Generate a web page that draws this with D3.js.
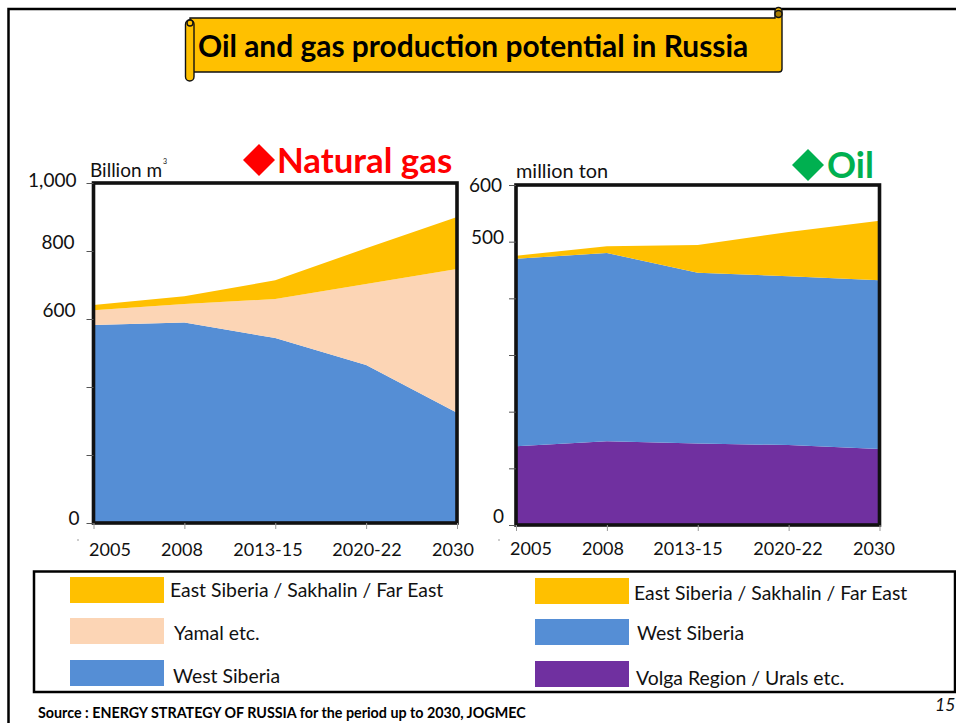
<!DOCTYPE html>
<html><head><meta charset="utf-8">
<script src="https://cdn.jsdelivr.net/npm/d3@7/dist/d3.min.js"></script>
<style>html,body{margin:0;padding:0;background:#fff}svg{display:block}text{font-family:Lato,"Open Sans",sans-serif;fill:#111}</style>
</head><body><svg id="c" width="956" height="723"></svg>
<script>
const periods = ["2005","2008","2013-15","2020-22","2030"];
const gasWest = [582,590,544,465,324];
const gasYamal = [44,54,115,238,423];
const gasEast = [15,23,55,105,153];
const oilVolga = [139,148,144,141,134];
const oilWest = [331,332,301,298,298];
const oilEast = [5,12,49,78,105];
const gasTicks = [0,200,400,600,800,1000];
const oilTicks = [0,100,200,300,400,500,600];
const gasLabelled = [0,600,800,1000];
const oilLabelled = [0,500,600];
const gasSeries = ["West Siberia","Yamal etc.","East Siberia / Sakhalin / Far East"];
const oilSeries = ["Volga Region / Urals etc.","West Siberia","East Siberia / Sakhalin / Far East"];

const BLUE="#558ed5", PEACH="#fcd5b5", GOLD="#ffc000", PURPLE="#7030a0";
const svg=d3.select("#c");

// page frame
svg.append("path").attr("d","M8.5,723V9H956").attr("fill","none").attr("stroke","#000").attr("stroke-width",2.5);

// scroll banner
const b=svg.append("g").attr("stroke","#111").attr("stroke-width",1.4);
b.append("path").attr("fill",GOLD).attr("d","M190,18H775V11a3.5,3.5 0 0 1 7,0V69a3,3 0 0 1 -3,3H190Z");
b.append("circle").attr("cx",778.5).attr("cy",14).attr("r",3.5).attr("fill","#a87c00");
b.append("rect").attr("x",185.5).attr("y",20).attr("width",8.5).attr("height",61).attr("rx",4.2).attr("fill",GOLD);
b.append("circle").attr("cx",190).attr("cy",23).attr("r",3).attr("fill",GOLD);
svg.append("text").attr("x",198).attr("y",57).attr("font-size",29.9).attr("font-weight",700).style("fill","#000").text("Oil and gas production potential in Russia");

function panel(o){
  const x=d3.scalePoint().domain(periods).range([o.x0,o.x1]);
  const y=d3.scaleLinear().domain(o.domain).range([o.y0,o.y1]);
  const stacked=d3.stack().keys(o.series.map((_,i)=>i))(periods.map((p,i)=>o.values.map(v=>v[i])));
  const area=d3.area().x((d,i)=>x(periods[i])).y0(d=>y(d[0])).y1(d=>y(d[1]));
  svg.append("g").selectAll("path").data(stacked).join("path").attr("d",area).attr("fill",(d,i)=>o.colors[i]);
  svg.append("rect").attr("x",o.x0).attr("y",o.y1).attr("width",o.x1-o.x0).attr("height",o.y0-o.y1).attr("fill","none").attr("stroke","#111").attr("stroke-width",3.6);
  const ya=svg.append("g").attr("transform",`translate(${o.x0},0)`)
    .call(d3.axisLeft(y).tickValues(o.ticks).tickSize(7).tickFormat(v=>o.labelled.includes(v)?d3.format(",")(v):""));
  ya.select(".domain").remove();
  ya.selectAll("line").attr("stroke","#555").attr("stroke-width",1);
  ya.selectAll("text").attr("font-size",19).attr("fill","#111")
    .attr("dy",v=>(o.nudge[v]||[0,0])[1]).attr("x",v=>-14+(o.nudge[v]||[0,0])[0]).style("dominant-baseline","middle");
  const xa=svg.append("g").attr("transform",`translate(0,${o.y0})`).call(d3.axisBottom(x).tickSize(6).tickFormat(""));
  xa.select(".domain").remove();
  xa.selectAll("line").attr("stroke","#999");
  svg.append("g").selectAll("text").data(periods).join("text")
    .attr("x",(d,i)=>o.lx[i]).attr("y",o.ly).attr("text-anchor","middle").attr("font-size",o.fs).text(d=>d);
}
panel({x0:93.5,x1:457,y0:523,y1:183,domain:[0,1000],series:gasSeries,values:[gasWest,gasYamal,gasEast],colors:[BLUE,PEACH,GOLD],
  ticks:gasTicks,labelled:gasLabelled,fs:18,lx:[110,182,268,367,453],ly:556,
  nudge:{1000:[-3,-1],800:[-5,-7],600:[-4,-7],0:[0,-3]}});
panel({x0:516,x1:879.5,y0:525,y1:185,domain:[0,600],series:oilSeries,values:[oilVolga,oilWest,oilEast],colors:[PURPLE,BLUE,GOLD],
  ticks:oilTicks,labelled:oilLabelled,fs:18,lx:[531,603,688,788,874],ly:555,
  nudge:{600:[0,2],500:[2,-3],0:[2,-7]}});

// stray specks of the original
svg.append("g").selectAll("circle").data(periods.slice(0,2)).join("circle")
  .attr("cx",(d,i)=>i?499:78).attr("cy",540).attr("r",.7).attr("fill","#777");

// unit labels
svg.append("text").attr("x",90).attr("y",177).attr("font-size",19).text("Billion m");
svg.append("text").attr("x",163).attr("y",164).attr("font-size",7).text("3");
svg.append("text").attr("x",516).attr("y",178).attr("font-size",19.9).text("million ton");

// panel headings
svg.append("path").attr("transform","translate(259,160)").attr("d","M0,-16L16,0L0,16L-16,0Z").attr("fill","#ff0000");
svg.append("text").attr("x",277).attr("y",173).attr("font-size",34.8).attr("font-weight",700).style("fill","#ff0000").text("Natural gas");
svg.append("path").attr("transform","translate(808,165)").attr("d","M0,-16L16,0L0,16L-16,0Z").attr("fill","#00b050");
svg.append("text").attr("x",827).attr("y",178).attr("font-size",36).attr("font-weight",700).style("fill","#00b050").text("Oil");

// legend
svg.append("rect").attr("x",34).attr("y",571.5).attr("width",921).attr("height",120.5).attr("fill","none").attr("stroke","#000").attr("stroke-width",2.5);
function legend(rx,rows){
  const g=svg.append("g");
  g.selectAll("rect").data(rows).join("rect").attr("x",rx).attr("y",d=>d.ry).attr("width",94).attr("height",26).attr("fill",d=>d.c);
  g.selectAll("text").data(rows).join("text").attr("x",d=>d.tx).attr("y",d=>d.ty).attr("font-size",19.4).text(d=>d.t);
}
legend(70,[{t:gasSeries[2],c:GOLD,ry:577,tx:170,ty:597},{t:gasSeries[1],c:PEACH,ry:618,tx:174,ty:640},{t:gasSeries[0],c:BLUE,ry:660,tx:173,ty:683}]);
legend(535,[{t:oilSeries[2],c:GOLD,ry:578,tx:634,ty:600},{t:oilSeries[1],c:BLUE,ry:619,tx:637,ty:640},{t:oilSeries[0],c:PURPLE,ry:661,tx:636,ty:685}]);

// footer
svg.append("text").attr("x",38).attr("y",718).attr("font-size",14.3).attr("font-weight",700).style("fill","#000").text("Source : ENERGY STRATEGY OF RUSSIA for the period up to 2030,  JOGMEC");
svg.append("text").attr("x",935).attr("y",711).attr("font-size",17.5).attr("font-style","italic").text("15");
</script></body></html>
